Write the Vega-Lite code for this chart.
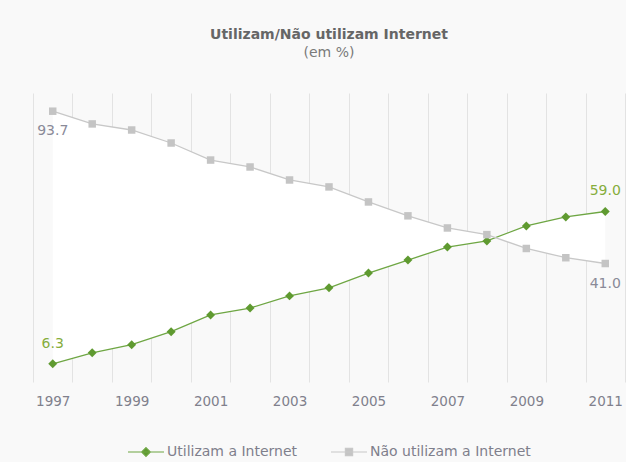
{
  "$schema": "https://vega.github.io/schema/vega-lite/v6.json",
  "width": 592,
  "height": 289,
  "autosize": "none",
  "padding": {"left": 33, "top": 93, "right": 1, "bottom": 80},
  "background": "#f9f9f9",
  "config": {"view": {"stroke": null}},
  "title": {
    "text": "Utilizam/Não utilizam Internet",
    "subtitle": "(em %)",
    "anchor": "middle",
    "font": "DejaVu Sans",
    "fontSize": 14,
    "fontWeight": "bold",
    "color": "#666666",
    "subtitleFont": "DejaVu Sans",
    "subtitleFontSize": 14,
    "subtitleColor": "#7a7a7a",
    "subtitlePadding": 4,
    "offset": 33
  },
  "data": {
    "values": [
      {"ano": 1997, "serie": "Utilizam a Internet", "valor": 6.3},
      {"ano": 1998, "serie": "Utilizam a Internet", "valor": 10.1},
      {"ano": 1999, "serie": "Utilizam a Internet", "valor": 12.9},
      {"ano": 2000, "serie": "Utilizam a Internet", "valor": 17.4},
      {"ano": 2001, "serie": "Utilizam a Internet", "valor": 23.2},
      {"ano": 2002, "serie": "Utilizam a Internet", "valor": 25.6},
      {"ano": 2003, "serie": "Utilizam a Internet", "valor": 29.8},
      {"ano": 2004, "serie": "Utilizam a Internet", "valor": 32.6},
      {"ano": 2005, "serie": "Utilizam a Internet", "valor": 37.7},
      {"ano": 2006, "serie": "Utilizam a Internet", "valor": 42.2},
      {"ano": 2007, "serie": "Utilizam a Internet", "valor": 46.7},
      {"ano": 2008, "serie": "Utilizam a Internet", "valor": 48.8},
      {"ano": 2009, "serie": "Utilizam a Internet", "valor": 54.0},
      {"ano": 2010, "serie": "Utilizam a Internet", "valor": 57.1},
      {"ano": 2011, "serie": "Utilizam a Internet", "valor": 59.0},
      {"ano": 1997, "serie": "Não utilizam a Internet", "valor": 93.7},
      {"ano": 1998, "serie": "Não utilizam a Internet", "valor": 89.3},
      {"ano": 1999, "serie": "Não utilizam a Internet", "valor": 87.2},
      {"ano": 2000, "serie": "Não utilizam a Internet", "valor": 82.7},
      {"ano": 2001, "serie": "Não utilizam a Internet", "valor": 76.8},
      {"ano": 2002, "serie": "Não utilizam a Internet", "valor": 74.4},
      {"ano": 2003, "serie": "Não utilizam a Internet", "valor": 69.9},
      {"ano": 2004, "serie": "Não utilizam a Internet", "valor": 67.5},
      {"ano": 2005, "serie": "Não utilizam a Internet", "valor": 62.3},
      {"ano": 2006, "serie": "Não utilizam a Internet", "valor": 57.5},
      {"ano": 2007, "serie": "Não utilizam a Internet", "valor": 53.3},
      {"ano": 2008, "serie": "Não utilizam a Internet", "valor": 51.0},
      {"ano": 2009, "serie": "Não utilizam a Internet", "valor": 46.2},
      {"ano": 2010, "serie": "Não utilizam a Internet", "valor": 43.0},
      {"ano": 2011, "serie": "Não utilizam a Internet", "valor": 41.0}
    ]
  },
  "encoding": {
    "x": {
      "field": "ano",
      "type": "ordinal",
      "bandPosition": 0.5,
      "scale": {"type": "band", "paddingInner": 0, "paddingOuter": 0},
      "axis": {
        "title": null,
        "domain": false,
        "ticks": false,
        "grid": true,
        "gridColor": "#e3e3e3",
        "gridWidth": 1,
        "tickBand": "extent",
        "labelAngle": 0,
        "labelPadding": 12,
        "labelFont": "DejaVu Sans",
        "labelFontSize": 13.5,
        "labelColor": "#80808c",
        "labelExpr": "datum.value % 2 == 1 ? datum.label : ''"
      }
    }
  },
  "layer": [
    {
      "transform": [
        {"pivot": "serie", "value": "valor", "groupby": ["ano"]}
      ],
      "mark": {"type": "area", "color": "#ffffff", "opacity": 1},
      "encoding": {
        "y": {"field": "Utilizam a Internet", "type": "quantitative", "scale": {"domain": [0, 100], "nice": false}, "axis": null},
        "y2": {"field": "Não utilizam a Internet"}
      }
    },
    {
      "mark": {"type": "line", "strokeWidth": 1.3},
      "encoding": {
        "y": {"field": "valor", "type": "quantitative", "scale": {"domain": [0, 100], "nice": false}, "axis": null},
        "color": {
          "field": "serie",
          "type": "nominal",
          "sort": ["Utilizam a Internet", "Não utilizam a Internet"],
          "scale": {"domain": ["Utilizam a Internet", "Não utilizam a Internet"], "range": ["#6ea643", "#c8c8c8"]},
          "legend": {
            "title": null,
            "orient": "none",
            "direction": "horizontal",
            "legendX": 94,
            "legendY": 340,
            "padding": 0,
            "symbolSize": 1296,
            "symbolStrokeWidth": 1.2,
            "labelFont": "DejaVu Sans",
            "labelFontSize": 14,
            "labelColor": "#7f7f8c",
            "labelOffset": 2,
            "labelLimit": 0,
            "columnPadding": 30,
            "encode": {
              "symbols": {
                "update": {
                  "shape": {"signal": "datum.value == 'Utilizam a Internet' ? 'M-1,0H1M0,-0.24L0.24,0L0,0.24L-0.24,0Z' : 'M-1,0H1M-0.2,-0.2H0.2V0.2H-0.2Z'"},
                  "fill": {"signal": "datum.value == 'Utilizam a Internet' ? '#5f9a30' : '#c4c4c4'"},
                  "stroke": {"scale": "color", "field": "value"},
                  "opacity": {"value": 1}
                }
              }
            }
          }
        }
      }
    },
    {
      "transform": [{"filter": "datum.serie == 'Utilizam a Internet'"}],
      "mark": {"type": "point", "shape": "diamond", "filled": true, "opacity": 1, "size": 80, "color": "#5f9a30"},
      "encoding": {
        "y": {"field": "valor", "type": "quantitative"}
      }
    },
    {
      "transform": [{"filter": "datum.serie == 'Não utilizam a Internet'"}],
      "mark": {"type": "point", "shape": "square", "filled": true, "opacity": 1, "size": 56, "color": "#c4c4c4"},
      "encoding": {
        "y": {"field": "valor", "type": "quantitative"}
      }
    },
    {
      "transform": [
        {"filter": "datum.serie == 'Utilizam a Internet' && (datum.ano == 1997 || datum.ano == 2011)"}
      ],
      "mark": {"type": "text", "dy": -20, "baseline": "middle", "font": "DejaVu Sans", "fontSize": 14, "color": "#86ad3c"},
      "encoding": {
        "y": {"field": "valor", "type": "quantitative"},
        "text": {"field": "valor", "type": "quantitative", "format": ".1f"}
      }
    },
    {
      "transform": [
        {"filter": "datum.serie == 'Não utilizam a Internet' && (datum.ano == 1997 || datum.ano == 2011)"}
      ],
      "mark": {"type": "text", "dy": 20, "baseline": "middle", "font": "DejaVu Sans", "fontSize": 14, "color": "#8a8a98"},
      "encoding": {
        "y": {"field": "valor", "type": "quantitative"},
        "text": {"field": "valor", "type": "quantitative", "format": ".1f"}
      }
    }
  ]
}
